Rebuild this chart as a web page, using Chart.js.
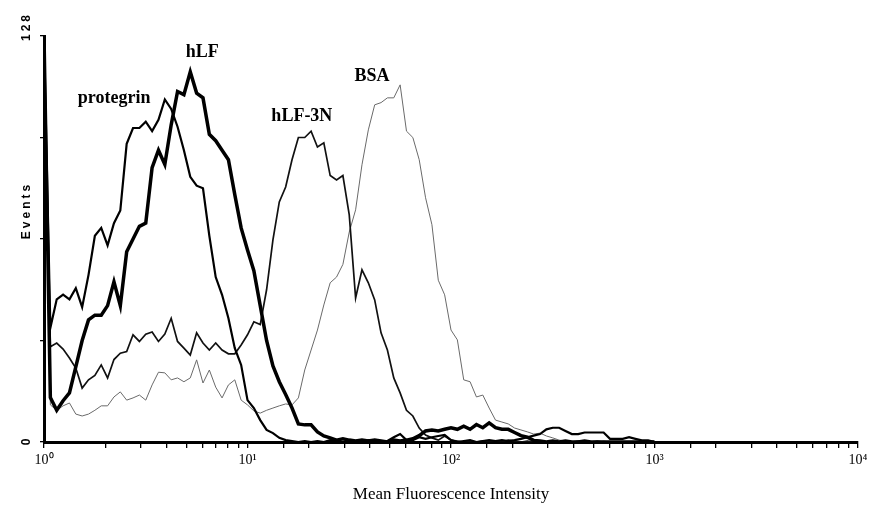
<!DOCTYPE html>
<html>
<head>
<meta charset="utf-8">
<script src="https://cdn.jsdelivr.net/npm/chart.js@4.4.1/dist/chart.umd.min.js"></script>
<style>
html, body { margin: 0; padding: 0; background: #fff; }
#wrap { width: 880px; height: 514px; }
</style>
</head>
<body>
<div id="wrap"><canvas id="facs"></canvas></div>
<script>
// histogram channels (256 channels over 4 decades, 64 per decade), every 2nd channel
const channels = [0,2,4,6,8,10,12,14,16,18,20,22,24,26,28,30,32,34,36,38,40,42,44,46,48,50,52,54,56,58,60,62,64,66,68,70,72,74,76,78,80,82,84,86,88,90,92,94,96,98,100,102,104,106,108,110,112,114,116,118,120,122,124,126,128,130,132,134,136,138,140,142,144,146,148,150,152,154,156,158,160,162,164,166,168,170,172,174,176,178,180,182,184,186,188,190,192];

// events per channel
const hLF = [128,14,10,13,15.5,23.7,32,38.5,40,40,43,50.5,43,60,64,68,69,86.5,92,87.5,100,110.5,109.5,116.7,110,108.5,97,95,92,89,78,67.5,60.5,54,43,32,24,19,15,10.7,5.7,5.4,5.4,3.2,1.9,1.3,0.6,1,0.6,0.3,0.6,0.3,0.6,0.3,0,0.6,0.3,0.6,1,2,3.5,3.8,3.5,4,4.5,4,5,4,5.5,4.5,6,4.5,4,4,3,2,1.5,0.5,0.3,0,0.3,0,0.3,0,0,0.3,0,0,0,0,0,0,0,0,0,0,0];
const protegrin = [128,36,45,46.5,45,48.5,42.5,52.7,65,67.5,62,69,73,94,99,99,101,98,101.6,108,105,99.4,92,83.6,80.8,80,65,52,46.4,39,29.6,24.3,13.2,10.7,6.9,3.8,2.8,1.3,0.6,0.3,0,0.3,0,0.3,0,0.6,0.3,0,0.6,0.3,0,0.6,0.3,0,0.3,1.5,2.5,0.6,0.6,1.5,1,1.5,1.9,2.2,0.6,0,0.3,0.6,0,0.3,0.6,0.3,0.6,0.3,0.6,1,1.5,2,2.5,4,4.5,4.5,3.5,2.5,2.5,3,3,3,3,1,1,1,1.5,1,0.5,0.5,0];
const hLF3N = [128,30,31.2,29.3,26.5,23.3,17,19.6,21,24.3,20.2,26,28,28.5,33.8,31.7,34,34.7,31.7,34,39,31.7,29.6,27.4,34.4,31.2,29,31.2,29,27.8,27.8,30.6,33.8,37.9,37,48,63.7,75.7,80.4,89,96,96,98,93,94.3,84,82.6,84,71.6,45.4,54.3,50.2,44.8,34.4,29,20.2,15.5,10,8.2,4.4,2.2,1.3,0.6,1.9,0.6,0.3,0,0.3,0,0.3,0,0.3,0,0.6,0.3,0,0.3,0,0.3,0,0.3,0,0.3,0,0.3,0,0,0.3,0,0,0,0,0,0,0,0,0];
const BSA = [128,11.7,10,11.4,12.3,8.8,8.2,8.8,10,11.4,11.4,14.2,15.8,13.2,13.9,14.8,13.2,18,22,21.8,19.6,20.2,19,20.2,25.9,18.6,22.7,17.3,13.9,18,19.6,13.2,11.7,9.8,9.1,10,10.7,11.4,12,11.7,13.9,22.7,29,35.3,43.2,50.2,52,56,66.2,73.2,87.4,98.4,106.3,107,108.5,108.5,112.6,98,96,89,77,68.5,51,46.4,35.3,32.2,19.6,19,14.2,14.8,10.7,6.9,6.3,5.7,4.4,3.8,3.2,2.5,2.8,1.9,1.3,0.6,0.3,0,0.3,0,0,0,0.3,0,0,0,0,0,0,0,0];

const decadeLabels = ['10⁰', '10¹', '10²', '10³', '10⁴'];
const yTickLabels = ['0', '128'];

// curve names placed in data units (intensity, events)
const curveLabels = [
	{ text: 'protegrin', x: 2.21, y: 108.5 },
	{ text: 'hLF', x: 6.0, y: 123 },
	{ text: 'hLF-3N', x: 18.5, y: 102.8 },
	{ text: 'BSA', x: 40.9, y: 115.4 },
];

const toPoints = counts => channels.map((c, i) => ({ x: Math.pow(10, c / 64), y: counts[i] }));

const textPlugin = {
	id: 'facsText',
	afterDraw(chart) {
		const { ctx, scales: { x, y } } = chart;
		ctx.save();
		ctx.fillStyle = '#000';
		ctx.textAlign = 'center';
		ctx.textBaseline = 'middle';

		ctx.font = 'bold 18px "Liberation Serif"';
		curveLabels.forEach(l => {
			ctx.fillText(l.text, x.getPixelForValue(l.x), y.getPixelForValue(l.y));
		});

		ctx.font = '17px "Liberation Serif"';
		ctx.fillText('Mean Fluorescence Intensity', (x.left + x.right) / 2, 495);

		// rotated y texts
		ctx.font = 'bold 12px "Liberation Sans"';
		const rot = (txt, px, py) => {
			ctx.save();
			ctx.translate(px, py);
			ctx.rotate(-Math.PI / 2);
			ctx.letterSpacing = '3px';
			ctx.fillText(txt, 1.5, 0);
			ctx.restore();
		};
		rot(yTickLabels[0], 27, y.getPixelForValue(0));
		rot(yTickLabels[1], 27, y.getPixelForValue(128) - 8);
		rot('Events', 27, y.getPixelForValue(72.5));
		ctx.restore();
	}
};

const data_facs = {
	datasets: [
		{
			label: 'hLF',
			data: toPoints(hLF),
			borderColor: '#000',
			borderWidth: 3.5,
		},
		{
			label: 'protegrin',
			data: toPoints(protegrin),
			borderColor: '#000',
			borderWidth: 2.2,
		},
		{
			label: 'hLF-3N',
			data: toPoints(hLF3N),
			borderColor: '#111',
			borderWidth: 1.7,
		},
		{
			label: 'BSA',
			data: toPoints(BSA),
			borderColor: '#6a6a6a',
			borderWidth: 1,
		},
	]
};

const config_facs = {
	type: 'line',
	data: data_facs,
	options: {
		responsive: true,
		maintainAspectRatio: false,
		animation: false,
		parsing: false,
		elements: {
			point: { radius: 0 },
			line: { tension: 0, borderJoinStyle: 'miter' }
		},
		layout: {
			padding: { top: 36, right: 22, left: 0, bottom: 0 }
		},
		plugins: {
			legend: { display: false },
			title: { display: false },
			tooltip: { enabled: false }
		},
		scales: {
			x: {
				type: 'logarithmic',
				min: 1,
				max: 10000,
				afterFit: s => { s.height = 72; },
				border: { color: '#000', width: 3 },
				grid: {
					drawOnChartArea: false,
					drawTicks: true,
					tickLength: 6,
					color: '#000',
					lineWidth: 1.3
				},
				ticks: {
					autoSkip: false,
					maxRotation: 0,
					padding: 4,
					color: '#000',
					font: { family: 'Liberation Serif', size: 14 },
					callback: v => {
						const k = Math.log10(v);
						return Number.isInteger(k) ? decadeLabels[k] : '';
					}
				}
			},
			y: {
				min: 0,
				max: 128,
				afterFit: s => { s.width = 44; },
				border: { color: '#000', width: 3 },
				grid: {
					drawOnChartArea: false,
					drawTicks: true,
					tickLength: 4,
					color: '#000',
					lineWidth: 1.3
				},
				ticks: {
					stepSize: 32,
					display: false
				}
			}
		}
	},
	plugins: [textPlugin]
};

const facs = new Chart(document.getElementById('facs'), config_facs);
</script>
</body>
</html>
